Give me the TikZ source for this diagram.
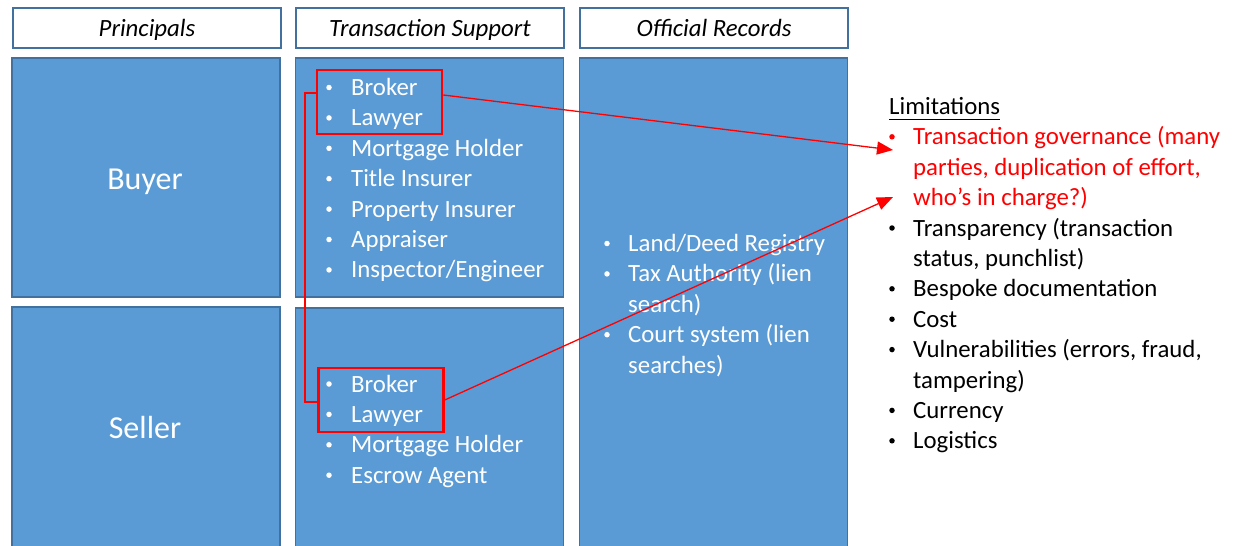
\documentclass[tikz,border=0pt]{standalone}
\usepackage{fontspec}
\setmainfont{Carlito}
\usetikzlibrary{arrows.meta}
\definecolor{boxblue}{HTML}{5B9BD5}
\definecolor{boxedge}{HTML}{41719C}
\begin{document}
\begin{tikzpicture}[x=1pt,y=-1pt,
  panel/.style={draw=boxedge, fill=boxblue, line width=1.5pt, inner sep=0, minimum width=268pt},
  header/.style={draw=boxedge, fill=white, line width=1.5pt, inner sep=0, minimum width=268pt, minimum height=40pt},
  headtext/.style={anchor=base, inner sep=0, font=\fontsize{24.8}{28}\selectfont\itshape},
  bigtext/.style={anchor=base, inner sep=0, text=white, font=\fontsize{32}{36}\selectfont},
  item/.style={anchor=base west, inner sep=0, text=white, font=\fontsize{24.8}{28}\selectfont},
  dot/.style={circle, fill=white, inner sep=0, minimum size=5.5pt, yshift=8pt},
  limitem/.style={item, text=black},
  limdot/.style={dot, fill=black},
  reditem/.style={item, text=red},
  reddot/.style={dot, fill=red},
  hl/.style={draw=red, line width=2.5pt, inner sep=0, minimum width=125pt, minimum height=64pt},
  bracket/.style={draw=red, line width=2.5pt},
  link/.style={draw=red, line width=1.3pt, -{Triangle[length=16pt,width=13pt]}}]
\useasboundingbox (0,0) rectangle (1234,546);
\clip (0,0) rectangle (1234,546);

% column headers
\node[header] (hdrP) at (147,28) {};
\node[header] (hdrT) at (430,28) {};
\node[header] (hdrO) at (714,28) {};
\node[headtext] (hdrPt) at (147,36.5) {Principals};
\node[headtext] (hdrTt) at (430,36.5) {Transaction Support};
\node[headtext] (hdrOt) at (714,36.5) {Official Records};

% panels (lower ones run past the page edge)
\node[panel, minimum height=239pt] (buyer) at (146,177.5) {};
\node[panel, minimum height=253pt] (seller) at (146,433.5) {};
\node[panel, minimum height=239pt] (tsBuy) at (429.5,177.5) {};
\node[panel, minimum height=252pt] (tsSell) at (429.5,434) {};
\node[panel, minimum height=502pt] (records) at (713.5,309) {};

\node[bigtext] (buyerT) at (145,189) {Buyer};
\node[bigtext] (sellerT) at (145,438.5) {Seller};

% buyer-side support
\foreach \t [count=\i from 0] in {Broker,Lawyer,Mortgage Holder,Title Insurer,Property Insurer,Appraiser,Inspector/Engineer}{
  \node[dot] (tsBd\i) at (329,{95.5+30.4*\i}) {};
  \node[item] (tsB\i) at (351,{95.5+30.4*\i}) {\t};
}
% seller-side support
\foreach \t [count=\i from 0] in {Broker,Lawyer,Mortgage Holder,Escrow Agent}{
  \node[dot] (tsSd\i) at (329,{392+30.4*\i}) {};
  \node[item] (tsS\i) at (351,{392+30.4*\i}) {\t};
}
% official records
\node[dot] (orD0) at (607,251.5) {};
\node[item] (or0) at (628,251.5) {Land/Deed Registry};
\node[dot] (orD1) at (607,281.9) {};
\node[item] (or1) at (628,281.9) {Tax Authority (lien};
\node[item] (or2) at (628,312.3) {search)};
\node[dot] (orD3) at (607,342.7) {};
\node[item] (or3) at (628,342.7) {Court system (lien};
\node[item] (or4) at (628,373.1) {searches)};

% limitations
\node[limitem] (lim) at (889,114.8) {Limitations};
\draw[line width=1.3pt] ([yshift=-5pt]lim.base west) -- ([yshift=-5pt]lim.base east);
\node[reddot] (limD0) at (892,144.8) {};
\node[reditem] (lim0) at (913,144.8) {Transaction governance (many};
\node[reditem] (lim1) at (913,175.2) {parties, duplication of effort,};
\node[reditem] (lim2) at (913,205.6) {who’s in charge?)};
\node[limdot] (limD3) at (892,236) {};
\node[limitem] (lim3) at (913,236) {Transparency (transaction};
\node[limitem] (lim4) at (913,266.4) {status, punchlist)};
\node[limdot] (limD5) at (892,296.8) {};
\node[limitem] (lim5) at (913,296.8) {Bespoke documentation};
\node[limdot] (limD6) at (892,327.2) {};
\node[limitem] (lim6) at (913,327.2) {Cost};
\node[limdot] (limD7) at (892,357.6) {};
\node[limitem] (lim7) at (913,357.6) {Vulnerabilities (errors, fraud,};
\node[limitem] (lim8) at (913,388) {tampering)};
\node[limdot] (limD9) at (892,418.4) {};
\node[limitem] (lim9) at (913,418.4) {Currency};
\node[limdot] (limD10) at (892,448.8) {};
\node[limitem] (lim10) at (913,448.8) {Logistics};

% highlighted broker/lawyer groups and their links
\node[hl] (hlA) at (379.5,102) {};
\node[hl] (hlB) at (381,400) {};
\draw[bracket] ([yshift=9pt]hlA.west) -- ++(-11,0) |- ([yshift=-2pt]hlB.west);
\coordinate (tipA) at (893,150);
\coordinate (tipB) at (893,197);
\draw[link] ([yshift=7pt]hlA.east) -- (tipA);
\draw[link] (hlB.east) -- (tipB);
\end{tikzpicture}
\end{document}
